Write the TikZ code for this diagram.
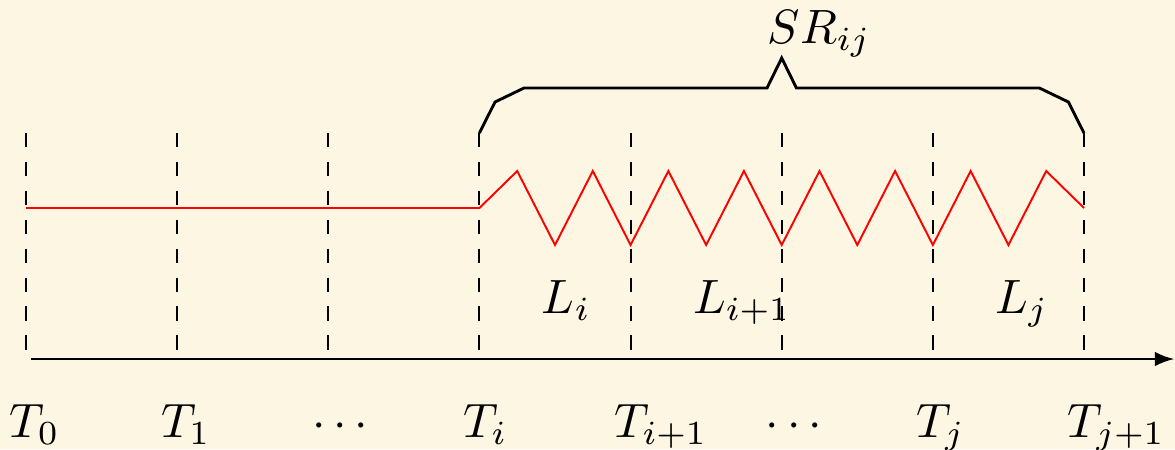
\documentclass[tikz,border=0pt]{standalone}
\usetikzlibrary{arrows.meta}
\definecolor{bgcream}{HTML}{FDF6E3}

\begin{document}
\begin{tikzpicture}[
        x=0.0073cm, y=-0.0073cm,
        tick/.style={dashed},
        axis/.style={-latex},
        zig/.style={red},
        brace/.style={draw=black, semithick},
        tlabel/.style={anchor=base west, inner sep=0pt},
        llabel/.style={anchor=base west, inner sep=0pt}
    ]
        % Background
        \fill[bgcream] (0,0) rectangle (1175,449);
        \useasboundingbox (0,0) rectangle (1175,449);

        % Ticks
        \foreach \n in {0,...,7} {
            \coordinate (top\n) at ({26+151.14*\n},133);
            \coordinate (bot\n) at ({26+151.14*\n},352);
            \draw[tick] (top\n) -- (bot\n);
        }

        % Time axis
        \coordinate (ax0) at (31,359);
        \coordinate (ax1) at (1174,359);
        \draw[axis] (ax0) -- (ax1);

        % Time labels
        \foreach \n/\t in {0/T_0, 1/T_1, 2/\cdots, 3/T_i, 4/T_{i+1}, 5/\cdots, 6/T_j, 7/T_{j+1}}
            \node[tlabel] (time\n) at ({9+151.14*\n},437) {$\t$};

        % Signal
        \coordinate (r0) at (26,208);
        \coordinate (ri) at ({26+151.14*3},208);
        \coordinate (rend) at (1084,208);
        \draw[zig] (r0) -- (ri)
            \foreach \k in {1,...,15} { -- ({26+151.14*3+37.785*\k},{208+37*cos(180*\k)}) }
            -- (rend);

        % Interval labels
        \node[llabel] (li) at ({26+151.14*3.5-14},313) {$L_i$};
        \node[llabel] (lii) at ({26+151.14*4.5-14},313) {$L_{i+1}$};
        \node[llabel] (lj) at ({26+151.14*6.5-14},313) {$L_j$};

        % Brace
        \coordinate (tip) at (781.7,58);
        \draw[brace] (top3) -- (495,102) -- (524,88) -- (767,88) -- (tip)
            -- (796.4,88) -- (1039.4,88) -- (1068.4,102) -- (top7);
        \node[llabel] (sr) at (767,43) {$SR_{ij}$};

    \end{tikzpicture}
\end{document}
